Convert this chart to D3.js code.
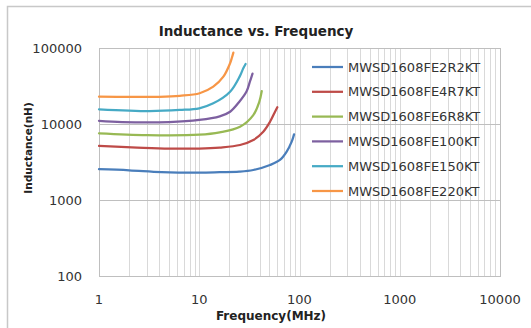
<!DOCTYPE html>
<html>
<head>
<meta charset="utf-8">
<script src="https://cdn.jsdelivr.net/npm/d3@7"></script>
<style>
  body { margin: 0; background: #fff; }
  text { font-family: "DejaVu Sans", Verdana, sans-serif; }
</style>
</head>
<body>
<div id="chart"></div>
<script>
// Data (MHz -> nH)
const seriesNames = ["MWSD1608FE2R2KT", "MWSD1608FE4R7KT", "MWSD1608FE6R8KT",
                     "MWSD1608FE100KT", "MWSD1608FE150KT", "MWSD1608FE220KT"];
const colors = ["#4a7ebb", "#be4b48", "#98b954", "#7d60a0", "#46aac5", "#f79646"];

const freq2R2 = [1, 2, 4.2, 10, 16, 25, 34.6, 50.8, 63.8, 74.5, 83.6, 88.2];
const ind2R2  = [2540, 2460, 2330, 2290, 2320, 2360, 2480, 2890, 3360, 4330, 5850, 7310];

const freq4R7 = [1, 2.4, 5, 10, 16, 25.5, 34.6, 43.5, 50.8, 57, 60.1];
const ind4R7  = [5140, 4900, 4750, 4750, 4900, 5290, 6150, 7930, 10700, 14500, 16600];

const freq6R8 = [1, 3, 10, 16, 25.5, 34.6, 39.7, 42];
const ind6R8  = [7550, 7150, 7250, 7780, 9200, 13100, 19600, 27000];

const freq100 = [1, 1.7, 5, 10, 16, 20.3, 25, 29.7, 32, 34];
const ind100  = [11000, 10600, 10600, 11300, 12600, 14500, 19500, 27000, 36000, 46000];

const freq150 = [1, 3.2, 6.4, 10, 13.8, 20.3, 25.5, 27.5, 29];
const ind150  = [15600, 14800, 15300, 16100, 18700, 26600, 43000, 54000, 61500];

const freq220 = [1, 2, 4, 6.4, 10.1, 13.8, 17.4, 20.3, 21.2, 21.9];
const ind220  = [22900, 22700, 22800, 23500, 25400, 31000, 41900, 63000, 75000, 87000];

const freqs = [freq2R2, freq4R7, freq6R8, freq100, freq150, freq220];
const inds  = [ind2R2, ind4R7, ind6R8, ind100, ind150, ind220];

const xTicks = [1, 10, 100, 1000, 10000];
const yTicks = [100, 1000, 10000, 100000];

const width = 531, height = 328;
const plot = { left: 99, right: 500, top: 48, bottom: 276 };

const svg = d3.select("#chart").append("svg")
    .attr("width", width)
    .attr("height", height);

// outer chart border
svg.append("rect")
    .attr("x", 7.5).attr("y", 6.5)
    .attr("width", 540).attr("height", 340)
    .attr("fill", "#fff")
    .attr("stroke", "#c8c8c8")
    .attr("stroke-width", 1.5);

const x = d3.scaleLog().domain([1, 10000]).range([plot.left, plot.right]);
const y = d3.scaleLog().domain([100, 100000]).range([plot.bottom, plot.top]);

// vertical gridlines: every minor value
const minor = [];
for (let d = 1; d < 10000; d *= 10) {
    for (let k = 1; k <= 10; k++) minor.push(d * k);
}
svg.append("g").selectAll("line")
    .data(minor)
    .enter().append("line")
    .attr("x1", d => Math.round(x(d)) + 0.5)
    .attr("x2", d => Math.round(x(d)) + 0.5)
    .attr("y1", plot.top)
    .attr("y2", plot.bottom)
    .attr("stroke", "#d9d9d9")
    .attr("stroke-width", 1);

// horizontal gridlines at decades
svg.append("g").selectAll("line")
    .data(yTicks)
    .enter().append("line")
    .attr("x1", plot.left)
    .attr("x2", plot.right)
    .attr("y1", d => Math.round(y(d)) + 0.5)
    .attr("y2", d => Math.round(y(d)) + 0.5)
    .attr("stroke", "#bfbfbf")
    .attr("stroke-width", 1);

// plot border
svg.append("rect")
    .attr("x", plot.left + 0.5).attr("y", plot.top + 0.5)
    .attr("width", plot.right - plot.left).attr("height", plot.bottom - plot.top)
    .attr("fill", "none")
    .attr("stroke", "#bfbfbf");

// tick labels
svg.append("g").selectAll("text")
    .data(yTicks)
    .enter().append("text")
    .attr("x", 82)
    .attr("y", d => y(d))
    .attr("dy", "0.36em")
    .attr("text-anchor", "end")
    .attr("font-size", 13)
    .attr("fill", "#333")
    .text(d => d);

svg.append("g").selectAll("text")
    .data(xTicks)
    .enter().append("text")
    .attr("x", d => x(d))
    .attr("y", 304)
    .attr("text-anchor", "middle")
    .attr("font-size", 13)
    .attr("fill", "#333")
    .text(d => d);

// titles
svg.append("text")
    .attr("x", 256).attr("y", 35.5)
    .attr("text-anchor", "middle")
    .attr("font-size", 13.5)
    .attr("font-weight", "bold")
    .attr("fill", "#222")
    .text("Inductance vs. Frequency");

svg.append("text")
    .attr("x", 271).attr("y", 320)
    .attr("text-anchor", "middle")
    .attr("font-size", 12)
    .attr("font-weight", "bold")
    .attr("fill", "#222")
    .text("Frequency(MHz)");

svg.append("text")
    .attr("transform", "translate(32,148) rotate(-90)")
    .attr("text-anchor", "middle")
    .attr("font-size", 10.5)
    .attr("font-weight", "bold")
    .attr("fill", "#222")
    .text("Inductance(nH)");

// curves
const line = d3.line()
    .x(d => x(d[0]))
    .y(d => y(d[1]))
    .curve(d3.curveCatmullRom.alpha(0.5));

svg.append("g").selectAll("path")
    .data(freqs.map((f, i) => f.map((v, j) => [v, inds[i][j]])))
    .enter().append("path")
    .attr("d", line)
    .attr("fill", "none")
    .attr("stroke", (d, i) => colors[i])
    .attr("stroke-width", 2.25)
    .attr("stroke-linecap", "round");

// legend
const legend = svg.selectAll(".legend")
    .data(seriesNames)
    .enter().append("g")
    .attr("class", "legend")
    .attr("transform", (d, i) => `translate(312,${67 + i * 24.8})`);

legend.append("line")
    .attr("x1", 0).attr("x2", 31)
    .attr("stroke", (d, i) => colors[i])
    .attr("stroke-width", 2.25);

legend.append("text")
    .attr("x", 36)
    .attr("dy", "0.36em")
    .attr("font-size", 13)
    .attr("fill", "#333")
    .text(d => d);
</script>
</body>
</html>
